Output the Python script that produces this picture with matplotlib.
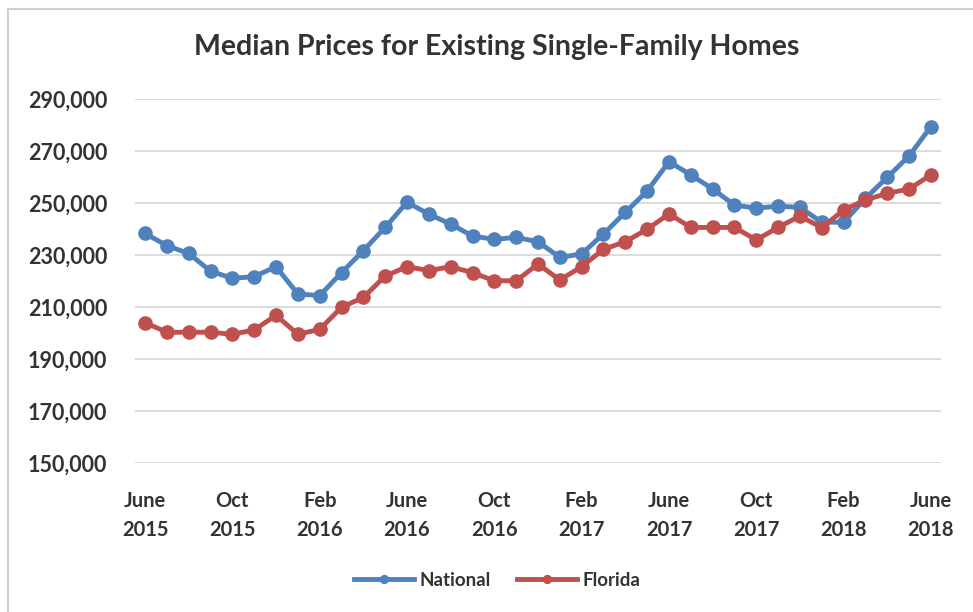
import matplotlib
matplotlib.use("Agg")
import matplotlib.pyplot as plt
from matplotlib.patches import Rectangle
from matplotlib.ticker import FuncFormatter

# monthly median prices, June 2015 .. June 2018
national = [238300, 233600, 230600, 223800, 221000, 221700, 225500, 215000, 214400,
            223200, 231700, 240600, 250300, 245700, 241900, 237300, 236000, 236800,
            235100, 229100, 230400, 238100, 246400, 254600, 265900, 260800, 255400,
            249200, 248000, 248800, 248300, 242600, 242600, 251800, 259900, 268100,
            279400]
florida = [204000, 200300, 200300, 200300, 199500, 201200, 206800, 199500, 201400,
           209900, 213700, 221900, 225500, 224000, 225500, 223200, 220100, 220100,
           226500, 220400, 225500, 232200, 235100, 239900, 245800, 240600, 240600,
           240600, 235800, 240600, 245000, 240500, 247300, 251200, 253700, 255400,
           260800]
tick_labels = ["June\n2015", "Oct\n2015", "Feb\n2016", "June\n2016", "Oct\n2016",
               "Feb\n2017", "June\n2017", "Oct\n2017", "Feb\n2018", "June\n2018"]
y_ticks = [150000, 170000, 190000, 210000, 230000, 250000, 270000, 290000]

blue = "#4F81BD"
red = "#C0504D"
txt = "#333333"

plt.rcParams["font.family"] = ["Lato", "DejaVu Sans"]
plt.rcParams["font.weight"] = "bold"

W, H = 973, 612
fig = plt.figure(figsize=(W / 100, H / 100), dpi=100)

# chart border
fig.patches.append(Rectangle((8 / W, -0.05), 1.1, 1 - 9 / H + 0.05, transform=fig.transFigure,
                             fill=False, edgecolor="#d0d0d0", linewidth=1.5))

ax = fig.add_axes([135 / W, 1 - 463 / H, (941 - 135) / W, (463 - 99) / H])

x = list(range(len(national)))
ax.plot(x, national, color=blue, lw=3.5, marker="o", ms=9.5, label="National", zorder=3)
ax.plot(x, florida, color=red, lw=3.5, marker="o", ms=9.5, label="Florida", zorder=3)

ax.set_xlim(-0.46, len(x) - 1 + 0.46)
ax.set_ylim(150000, 290000)
ax.set_yticks(y_ticks)
ax.yaxis.set_major_formatter(FuncFormatter(lambda v, p: f"{int(v):,}"))
ax.set_xticks(x[::4])
ax.set_xticklabels(tick_labels, linespacing=1.6)

ax.grid(axis="y", color="#d9d9d9", lw=1.3)
ax.set_axisbelow(True)
for s in ax.spines.values():
    s.set_visible(False)
ax.tick_params(length=0, labelsize=14.5, colors=txt)
ax.tick_params(axis="y", pad=20, labelsize=15.5)
ax.tick_params(axis="x", pad=20)
for lab in ax.get_xticklabels() + ax.get_yticklabels():
    lab.set_fontweight("bold")

fig.text(497 / W, 1 - 47 / H, "Median Prices for Existing Single-Family Homes",
         ha="center", va="center", fontsize=20.5, fontweight="bold", color=txt)

fig.legend(loc="center", bbox_to_anchor=(497 / W, 1 - 580 / H), ncol=2, frameon=False,
           handlelength=3.2, columnspacing=1.4, handletextpad=0.3,
           prop={"size": 13.5, "weight": "bold"}, labelcolor=txt, markerscale=0.6)

fig.savefig("out.png", dpi=100)
